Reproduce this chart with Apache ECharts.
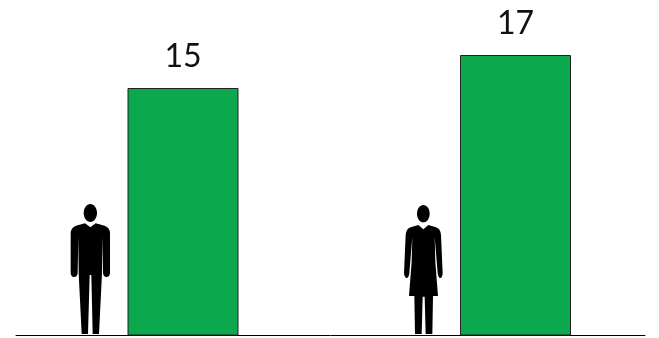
<!DOCTYPE html>
<html><head><meta charset="utf-8">
<style>html,body{margin:0;padding:0;background:#fff}#c{width:659px;height:338px}</style>
<script src="https://cdn.jsdelivr.net/npm/echarts@6/dist/echarts.min.js"></script>
</head><body><div id="c"></div>
<script>
const categories = ['Men', 'Women'];
const values = [15, 17];
const manPath = 'M121 112 L105 100 L78 107 Q62 113 62 130 L62 248 Q63 261 72 261 Q82 261 83 248 L85 140 L86 250 L95 432 L114 432 L119 255 L124 255 L128 432 L147 432 L156 250 L157 140 L159 248 Q160 261 170 261 Q179 261 180 248 L180 130 Q180 113 164 107 L137 100 Z';
const womanPath = 'M100 118 L85 105 L62 112 Q48 117 47 135 L42 250 Q44 264 50 264 Q56 264 58 250 L67 140 L65 215 L57 318 L73 318 L75 432 L95 432 L98 320 L104 320 L107 432 L127 432 L129 318 L144 318 L136 215 L134 140 L143 250 Q145 264 151 264 Q157 264 158 250 L153 135 Q152 117 138 112 L115 105 Z';
echarts.graphic.registerShape('manFigure', echarts.graphic.extendPath(manPath));
echarts.graphic.registerShape('womanFigure', echarts.graphic.extendPath(womanPath));
const chart = echarts.init(document.getElementById('c'), null, {renderer: 'canvas'});
chart.setOption({
  animation: false,
  backgroundColor: '#fff',
  grid: [
    {left: 183, right: 143.5, top: 5.5, bottom: 2.5},
    {left: 16, right: 14, top: 5.5, bottom: 2.5}
  ],
  xAxis: [
    {type: 'category', data: categories, boundaryGap: false, gridIndex: 0, axisLine: {show: false}, axisTick: {show: false}, axisLabel: {show: false}},
    {type: 'value', gridIndex: 1, min: 0, max: 1, splitLine: {show: false}, axisTick: {show: false}, axisLabel: {show: false},
      axisLine: {show: true, onZero: false, lineStyle: {color: '#000', width: 1}}}
  ],
  yAxis: [
    {type: 'value', gridIndex: 0, min: 0, max: 20, show: false},
    {type: 'value', gridIndex: 1, min: 0, max: 1, show: false}
  ],
  series: [{
    type: 'bar', clip: false, xAxisIndex: 0, yAxisIndex: 0, data: values, barWidth: 111,
    itemStyle: {color: '#0BA84E', borderColor: '#222', borderWidth: 1},
    label: {show: true, position: 'top', distance: 15, color: '#111', fontSize: 32, fontFamily: 'Lato, "Open Sans", sans-serif'}
  }],
  graphic: [
    {type: 'group', x: 50, y: 190, scaleX: 1/3, scaleY: 1/3, children: [
      {type: 'ellipse', shape: {cx: 121, cy: 69, rx: 20, ry: 27}, style: {fill: '#000'}},
      {type: 'manFigure', style: {fill: '#000'}}
    ]},
    {type: 'group', x: 390, y: 190, scaleX: 1/3, scaleY: 1/3, children: [
      {type: 'ellipse', shape: {cx: 100, cy: 71, rx: 19, ry: 26}, style: {fill: '#000'}},
      {type: 'womanFigure', style: {fill: '#000'}}
    ]}
  ]
});
</script></body></html>
